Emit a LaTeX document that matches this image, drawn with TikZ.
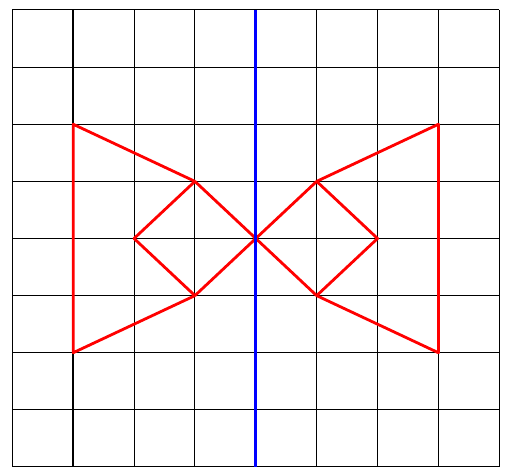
\documentclass[tikz,border=0pt]{standalone}
\begin{document}
\begin{tikzpicture}[x=60.875pt,y=57.125pt,
  gridline/.style={draw=black,line width=1pt},
  axisline/.style={draw=black,line width=1.8pt},
  redline/.style={draw=red,line width=2.8pt,line join=round},
  blueline/.style={draw=blue,line width=3pt}]
\useasboundingbox (-12.3pt,-9pt) rectangle (493.7pt,467pt);
% grid
\foreach \i in {0,2,3,4,5,6,7,8} \draw[gridline] (\i,0) -- (\i,8);
\foreach \j in {0,1,2,3,5,6,7,8} \draw[gridline] (0,\j) -- (8,\j);
\draw[axisline] (1,0) -- (1,8);
\draw[axisline] (0,4) -- (8,4);
% vertices
\coordinate (A) at (1,6);
\coordinate (B) at (3,5);
\coordinate (C) at (1,2);
\coordinate (D) at (3,3);
\coordinate (E) at (2,4);
\coordinate (O) at (4,4);
\coordinate (F) at (5,5);
\coordinate (G) at (7,6);
\coordinate (H) at (7,2);
\coordinate (I) at (5,3);
\coordinate (J) at (6,4);
% red figure
\draw[redline] (B) -- (A) -- (C) -- (D);
\draw[redline] (B) -- (E) -- (D) -- (O) -- cycle;
\draw[redline] (F) -- (G) -- (H) -- (I);
\draw[redline] (F) -- (J) -- (I) -- (O) -- cycle;
% axis of symmetry
\coordinate (T) at (4,8);
\coordinate (U) at (4,0);
\draw[blueline] (T) -- (U);
\end{tikzpicture}
\end{document}
